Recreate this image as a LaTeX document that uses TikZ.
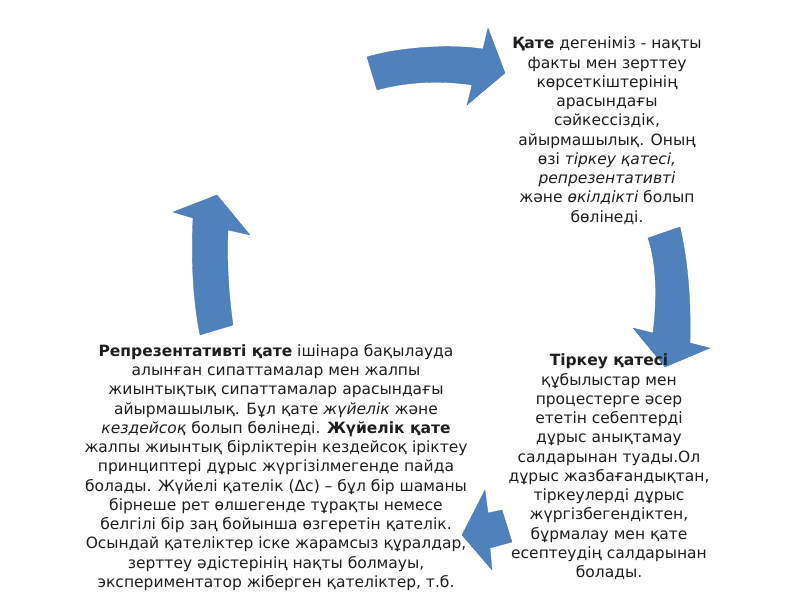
\documentclass[tikz,border=0pt]{standalone}
\usepackage{fontspec}
\setmainfont{DejaVu Sans}
\definecolor{arrowblue}{HTML}{4F81BD}
\definecolor{txt}{HTML}{1E1E1E}
\begin{document}
\begin{tikzpicture}[x=1pt,y=-1pt,
  blockarrow/.style={fill=arrowblue, draw=arrowblue!90!black, line width=0.3pt, line join=miter},
  textblock/.style={anchor=north, inner sep=0pt, align=center, text=txt, font=\fontsize{15.5}{19.25}\selectfont}]
\useasboundingbox[fill=white] (0,0) rectangle (800,600);
% top arrow
\path[blockarrow] (367,57) .. controls (400,47) and (450,44) .. (483,49) -- (488,28) -- (505,73) -- (467,105) -- (472,85) .. controls (440,80) and (405,82) .. (377,90) -- cycle;
% right arrow
\path[blockarrow] (648,238) -- (680,227) .. controls (688,262) and (691,300) .. (690,343) -- (710,348) -- (665,367) -- (633,328) -- (653,333) .. controls (657,300) and (657,265) .. (648,238) -- cycle;
% bottom arrow
\path[blockarrow] (462,535) -- (485,490) -- (488,513) -- (502,510) -- (512,542) -- (490,548) -- (492,570) -- cycle;
% left arrow
\path[blockarrow] (200,335) -- (233,325) .. controls (228,290) and (227,260) .. (228,230) -- (250,235) -- (217,195) -- (173,212) -- (193,218) .. controls (191,260) and (193,300) .. (200,335) -- cycle;
% texts
\node[textblock] (def) at (607,37) {\textbf{Қате} дегеніміз - нақты\\факты мен зерттеу\\көрсеткіштерінің\\арасындағы\\сәйкессіздік,\\айырмашылық. Оның\\өзі \textit{тіркеу қатесі,}\\\textit{репрезентативті}\\және \textit{өкілдікті} болып\\бөлінеді.};
\node[textblock] (reg) at (609,354) {\textbf{Тіркеу қатесі}\\құбылыстар мен\\процестерге әсер\\ететін себептерді\\дұрыс анықтамау\\салдарынан туады.Ол\\дұрыс жазбағандықтан,\\тіркеулерді дұрыс\\жүргізбегендіктен,\\бұрмалау мен қате\\есептеудің салдарынан\\болады.};
\node[textblock] (rep) at (276,344) {\textbf{Репрезентативті қате} ішінара бақылауда\\алынған сипаттамалар мен жалпы\\жиынтықтық сипаттамалар арасындағы\\айырмашылық. Бұл қате \textit{жүйелік} және\\\textit{кездейсоқ} болып бөлінеді. \textbf{Жүйелік қате}\\жалпы жиынтық бірліктерін кездейсоқ іріктеу\\принциптері дұрыс жүргізілмегенде пайда\\болады. Жүйелі қателік (Δс) -- бұл бір шаманы\\бірнеше рет өлшегенде тұрақты немесе\\белгілі бір заң бойынша өзгеретін қателік.\\Осындай қателіктер іске жарамсыз құралдар,\\зерттеу әдістерінің нақты болмауы,\\экспериментатор жіберген қателіктер, т.б.};
\end{tikzpicture}
\end{document}
